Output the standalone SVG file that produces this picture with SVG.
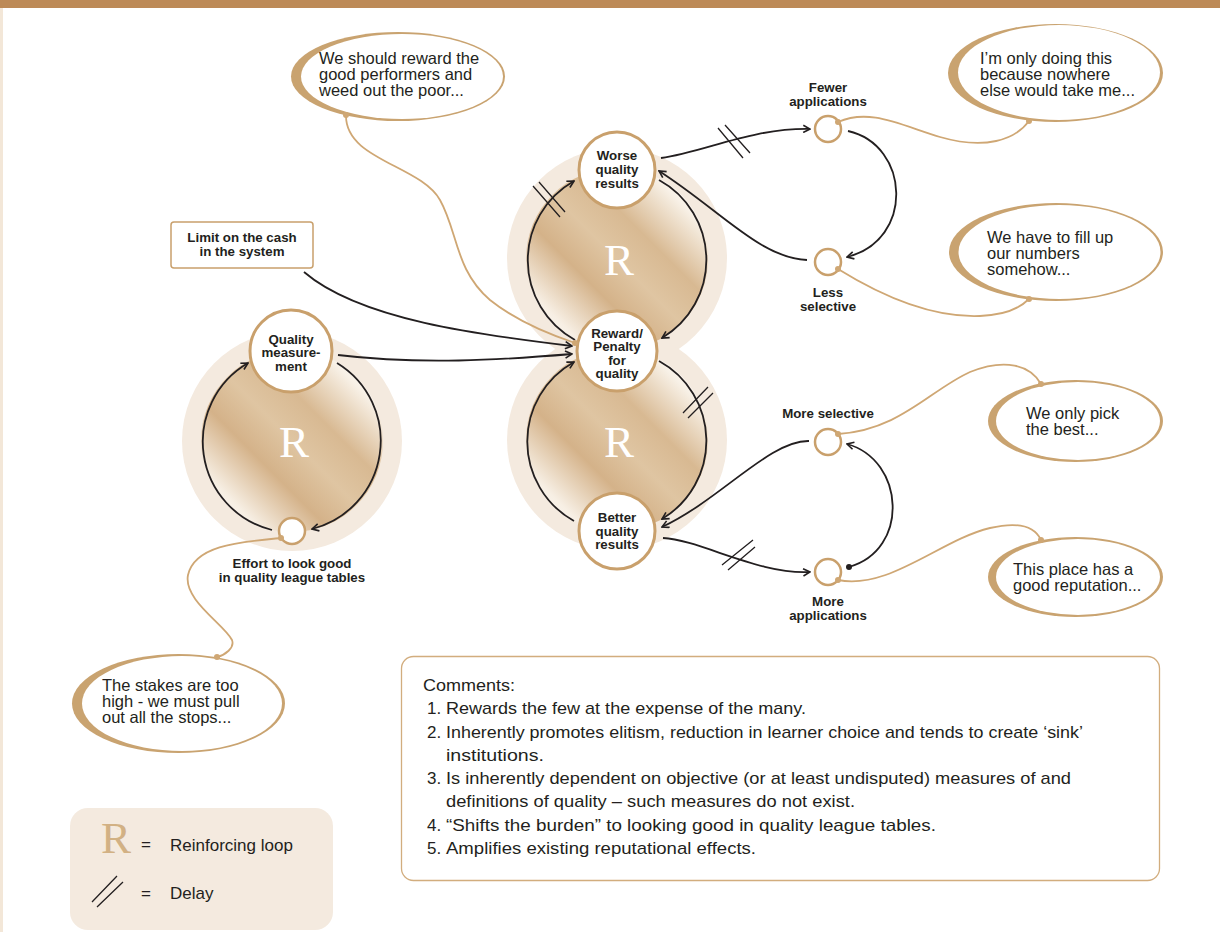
<svg xmlns="http://www.w3.org/2000/svg" width="1220" height="932" viewBox="0 0 1220 932">
  <defs>
    <linearGradient id="loopGrad" x1="1" y1="0" x2="0" y2="1">
      <stop offset="0" stop-color="#ffffff"/>
      <stop offset="0.17" stop-color="#f8f1e7"/>
      <stop offset="0.36" stop-color="#d8b992"/>
      <stop offset="0.5" stop-color="#dfc5a2"/>
      <stop offset="0.64" stop-color="#d4b289"/>
      <stop offset="0.83" stop-color="#f7efe4"/>
      <stop offset="1" stop-color="#ffffff"/>
    </linearGradient>
    <marker id="arrow" viewBox="0 0 10 10" refX="9" refY="5" markerWidth="9" markerHeight="9" markerUnits="userSpaceOnUse" orient="auto">
      <path d="M1.5,1 L9,5 L1.5,9" fill="none" stroke="#231f20" stroke-width="1.8" stroke-linejoin="miter"/>
    </marker>
  </defs>
  <style>
    .bold { font-family: "Liberation Sans", Arial, sans-serif; font-weight: bold; font-size: 13.3px; fill: #231f20; text-anchor: middle; }
    .say { font-family: "Liberation Sans", Arial, sans-serif; font-size: 16.5px; fill: #231f20; }
    .note { font-family: "Liberation Sans", Arial, sans-serif; font-size: 17px; fill: #231f20; }
    .loopR { font-family: "Liberation Serif", "Times New Roman", serif; font-size: 45px; fill: #ffffff; text-anchor: middle; }
    .halo { fill: #f4eadf; }
    .ring { fill: url(#loopGrad); }
    .node { fill: #ffffff; stroke: #c9a06c; stroke-width: 3; }
    .small { fill: #ffffff; stroke: #c9a06c; stroke-width: 2.5; }
    .link { fill: none; stroke: #231f20; stroke-width: 1.8; }
    .arr { marker-end: url(#arrow); }
    .delay { fill: none; stroke: #231f20; stroke-width: 1.3; }
    .tail { fill: none; stroke: #cfa774; stroke-width: 1.8; }
    .tdot { fill: #cfa774; }
    .bubOut { fill: #c9a370; }
    .bubIn { fill: #ffffff; }
  </style>

  <!-- page frame -->
  <rect x="0" y="0" width="1220" height="932" fill="#ffffff"/>
  <rect x="0" y="0" width="3" height="932" fill="#f3e7d8"/>
  <rect x="0" y="0" width="1220" height="8" fill="#bd8a57"/>

  <!-- loop backdrops -->
  <g id="loop-backdrops">
    <circle class="halo" cx="292" cy="441" r="110"/>
    <circle class="halo" cx="617" cy="258" r="110"/>
    <circle class="halo" cx="617" cy="440" r="110"/>
    <circle class="ring" cx="292" cy="441" r="91"/>
    <circle class="ring" cx="617" cy="259" r="91"/>
    <circle class="ring" cx="617" cy="440" r="91"/>
    <text class="loopR" x="294" y="457">R</text>
    <text class="loopR" x="619" y="275">R</text>
    <text class="loopR" x="619" y="457">R</text>
  </g>

  <!-- causal links -->
  <g id="connectors">
    <!-- left loop -->
    <path class="link arr" d="M272,530 A91,91 0 0 1 248,363"/>
    <path class="link arr" d="M337,363 A91,91 0 0 1 312,529"/>
    <!-- upper middle loop -->
    <path class="link arr" d="M575,340 A91,91 0 0 1 574,181"/>
    <path class="link arr" d="M659,180 A91,91 0 0 1 662,338"/>
    <!-- lower middle loop -->
    <path class="link arr" d="M574,521 A91,91 0 0 1 574,362"/>
    <path class="link arr" d="M659,361 A91,91 0 0 1 662,519"/>
    <!-- inputs to reward / penalty -->
    <path class="link arr" d="M304,272 C360,320 480,335 572,346"/>
    <path class="link arr" d="M338,355 C420,365 500,360 572,354"/>
    <!-- upper right loop -->
    <path class="link arr" d="M661,158 C705,152 750,128 810,129"/>
    <path class="link arr" d="M848,131 C910,145 915,240 847,257"/>
    <path class="link arr" d="M807,260 C760,258 720,210 659,171"/>
    <!-- lower right loop -->
    <path class="link arr" d="M663,538 C700,540 760,575 810,572"/>
    <path class="link arr" d="M849,567 C910,550 905,460 847,444"/>
    <circle cx="849" cy="567" r="3" fill="#231f20"/>
    <path class="link arr" d="M809,441 C770,440 720,500 662,527"/>
    <!-- delay marks -->
    <path class="delay" d="M533,186 L560,217 M539,182 L565,212"/>
    <path class="delay" d="M718,128 L743,158 M725,125 L750,153"/>
    <path class="delay" d="M683,413 L708,387 M688,418 L713,393"/>
    <path class="delay" d="M722,565 L753,540 M728,570 L755,547"/>
  </g>

  <!-- speech bubble tails -->
  <g id="tails">
    <path class="tail" d="M346,115 C345,160 420,165 440,200 C458,232 455,270 490,300 C515,320 545,333 575,343"/>
    <path class="tail" d="M838,122 C870,108 900,125 940,137 C985,150 1015,140 1029,121"/>
    <path class="tail" d="M838,269 C880,295 930,318 980,316 C1005,315 1020,308 1029,299"/>
    <path class="tail" d="M838,434 C900,430 930,390 970,372 C1005,358 1030,365 1041,384"/>
    <path class="tail" d="M838,580 C890,590 940,540 990,528 C1020,521 1035,527 1041,540"/>
    <path class="tail" d="M281,538 C240,542 195,545 188,575 C183,600 225,625 232,640 C235,648 225,655 217,657"/>
  </g>

  <!-- variables -->
  <g id="node-worse">
    <circle class="node" cx="617" cy="170" r="38"/>
    <text class="bold" x="617" y="160">Worse</text>
    <text class="bold" x="617" y="174">quality</text>
    <text class="bold" x="617" y="188">results</text>
  </g>
  <g id="node-reward">
    <circle class="node" cx="617" cy="351" r="40"/>
    <text class="bold" x="617" y="337.5">Reward/</text>
    <text class="bold" x="617" y="351">Penalty</text>
    <text class="bold" x="617" y="364.5">for</text>
    <text class="bold" x="617" y="378">quality</text>
  </g>
  <g id="node-better">
    <circle class="node" cx="617" cy="531" r="38"/>
    <text class="bold" x="617" y="522">Better</text>
    <text class="bold" x="617" y="535.5">quality</text>
    <text class="bold" x="617" y="549">results</text>
  </g>
  <g id="node-measurement">
    <circle class="node" cx="291" cy="351" r="41"/>
    <text class="bold" x="291" y="343.5">Quality</text>
    <text class="bold" x="291" y="357">measure-</text>
    <text class="bold" x="291" y="370.5">ment</text>
  </g>
  <g id="node-effort">
    <circle class="small" cx="292" cy="531" r="13"/>
    <text class="bold" x="292" y="568">Effort to look good</text>
    <text class="bold" x="292" y="582">in quality league tables</text>
  </g>
  <g id="node-limit">
    <rect x="171" y="222" width="142" height="46" rx="3" fill="#ffffff" stroke="#c9a06c" stroke-width="1.5"/>
    <text class="bold" x="242" y="242">Limit on the cash</text>
    <text class="bold" x="242" y="256">in the system</text>
  </g>
  <g id="node-fewer">
    <circle class="small" cx="828" cy="129" r="13"/>
    <text class="bold" x="828" y="92">Fewer</text>
    <text class="bold" x="828" y="105.5">applications</text>
  </g>
  <g id="node-less">
    <circle class="small" cx="828" cy="262" r="13"/>
    <text class="bold" x="828" y="297">Less</text>
    <text class="bold" x="828" y="310.5">selective</text>
  </g>
  <g id="node-more-selective">
    <circle class="small" cx="828" cy="442" r="13"/>
    <text class="bold" x="828" y="418">More selective</text>
  </g>
  <g id="node-more-applications">
    <circle class="small" cx="828" cy="572" r="13"/>
    <text class="bold" x="828" y="606">More</text>
    <text class="bold" x="828" y="620">applications</text>
  </g>

  <!-- tail anchor dots -->
  <g id="tail-dots">
    <circle class="tdot" cx="575" cy="343" r="3"/>
    <circle class="tdot" cx="838" cy="122" r="3"/>
    <circle class="tdot" cx="838" cy="269" r="3"/>
    <circle class="tdot" cx="838" cy="434" r="3"/>
    <circle class="tdot" cx="838" cy="580" r="3"/>
    <circle class="tdot" cx="281" cy="538" r="3"/>
  </g>

  <!-- speech bubbles -->
  <g id="bubble-reward">
    <ellipse class="bubOut" cx="398" cy="76.5" rx="107" ry="44.5"/>
    <ellipse class="bubIn" cx="402" cy="76.5" rx="101" ry="42.5"/>
    <circle class="tdot" cx="346" cy="115" r="3"/>
    <text class="say" x="319" y="64">We should reward the</text>
    <text class="say" x="319" y="80">good performers and</text>
    <text class="say" x="319" y="96">weed out the poor...</text>
  </g>
  <g id="bubble-nowhere">
    <ellipse class="bubOut" cx="1055.5" cy="73" rx="107.5" ry="49"/>
    <ellipse class="bubIn" cx="1059" cy="72.5" rx="101" ry="47.5"/>
    <circle class="tdot" cx="1029" cy="121" r="3"/>
    <text class="say" x="980" y="64">I’m only doing this</text>
    <text class="say" x="980" y="80">because nowhere</text>
    <text class="say" x="980" y="96">else would take me...</text>
  </g>
  <g id="bubble-numbers">
    <ellipse class="bubOut" cx="1056" cy="252" rx="107" ry="49"/>
    <ellipse class="bubIn" cx="1059.5" cy="252" rx="101" ry="47"/>
    <circle class="tdot" cx="1029" cy="299" r="3"/>
    <text class="say" x="987" y="243">We have to fill up</text>
    <text class="say" x="987" y="259">our numbers</text>
    <text class="say" x="987" y="275">somehow...</text>
  </g>
  <g id="bubble-best">
    <ellipse class="bubOut" cx="1075.5" cy="421" rx="87.5" ry="41"/>
    <ellipse class="bubIn" cx="1078" cy="421" rx="82" ry="39"/>
    <circle class="tdot" cx="1041" cy="384" r="3"/>
    <text class="say" x="1026" y="419">We only pick</text>
    <text class="say" x="1026" y="435">the best...</text>
  </g>
  <g id="bubble-reputation">
    <ellipse class="bubOut" cx="1075.5" cy="577" rx="87.5" ry="40"/>
    <ellipse class="bubIn" cx="1078" cy="577" rx="82" ry="38"/>
    <circle class="tdot" cx="1041" cy="540" r="3"/>
    <text class="say" x="1013" y="575">This place has a</text>
    <text class="say" x="1013" y="591">good reputation...</text>
  </g>
  <g id="bubble-stakes">
    <ellipse class="bubOut" cx="178.5" cy="703.5" rx="106.5" ry="49.5"/>
    <ellipse class="bubIn" cx="182" cy="703.5" rx="100" ry="47.5"/>
    <circle class="tdot" cx="217" cy="657" r="3"/>
    <text class="say" x="102" y="691">The stakes are too</text>
    <text class="say" x="102" y="707">high - we must pull</text>
    <text class="say" x="102" y="723">out all the stops...</text>
  </g>

  <!-- comments panel -->
  <g id="comments">
    <rect x="401.5" y="656.5" width="758" height="224" rx="12" fill="#ffffff" stroke="#d2ad7e" stroke-width="1.3"/>
    <text class="note" x="423" y="691" textLength="92" lengthAdjust="spacingAndGlyphs">Comments:</text>
    <text class="note" x="427" y="714">1.</text>
    <text class="note" x="446" y="714" textLength="360" lengthAdjust="spacingAndGlyphs">Rewards the few at the expense of the many.</text>
    <text class="note" x="427" y="737.5">2.</text>
    <text class="note" x="446" y="737.5" textLength="637" lengthAdjust="spacingAndGlyphs">Inherently promotes elitism, reduction in learner choice and tends to create ‘sink’</text>
    <text class="note" x="446" y="761" textLength="98" lengthAdjust="spacingAndGlyphs">institutions.</text>
    <text class="note" x="427" y="784">3.</text>
    <text class="note" x="446" y="784" textLength="625" lengthAdjust="spacingAndGlyphs">Is inherently dependent on objective (or at least undisputed) measures of and</text>
    <text class="note" x="446" y="807" textLength="409" lengthAdjust="spacingAndGlyphs">definitions of quality – such measures do not exist.</text>
    <text class="note" x="427" y="830.5">4.</text>
    <text class="note" x="446" y="830.5" textLength="490" lengthAdjust="spacingAndGlyphs">“Shifts the burden” to looking good in quality league tables.</text>
    <text class="note" x="427" y="854">5.</text>
    <text class="note" x="446" y="854" textLength="310" lengthAdjust="spacingAndGlyphs">Amplifies existing reputational effects.</text>
  </g>

  <!-- key -->
  <g id="legend">
    <rect x="70" y="808" width="263" height="122" rx="18" fill="#f4eadf"/>
    <text x="116" y="853" font-family="Liberation Serif, Times New Roman, serif" font-size="45" fill="#d2b184" text-anchor="middle">R</text>
    <text class="note" x="141" y="850">=</text>
    <text class="note" x="170" y="851">Reinforcing loop</text>
    <path class="delay" d="M92,902 L117,876 M97,907 L123,882"/>
    <text class="note" x="141" y="899">=</text>
    <text class="note" x="170" y="899">Delay</text>
  </g>
</svg>
